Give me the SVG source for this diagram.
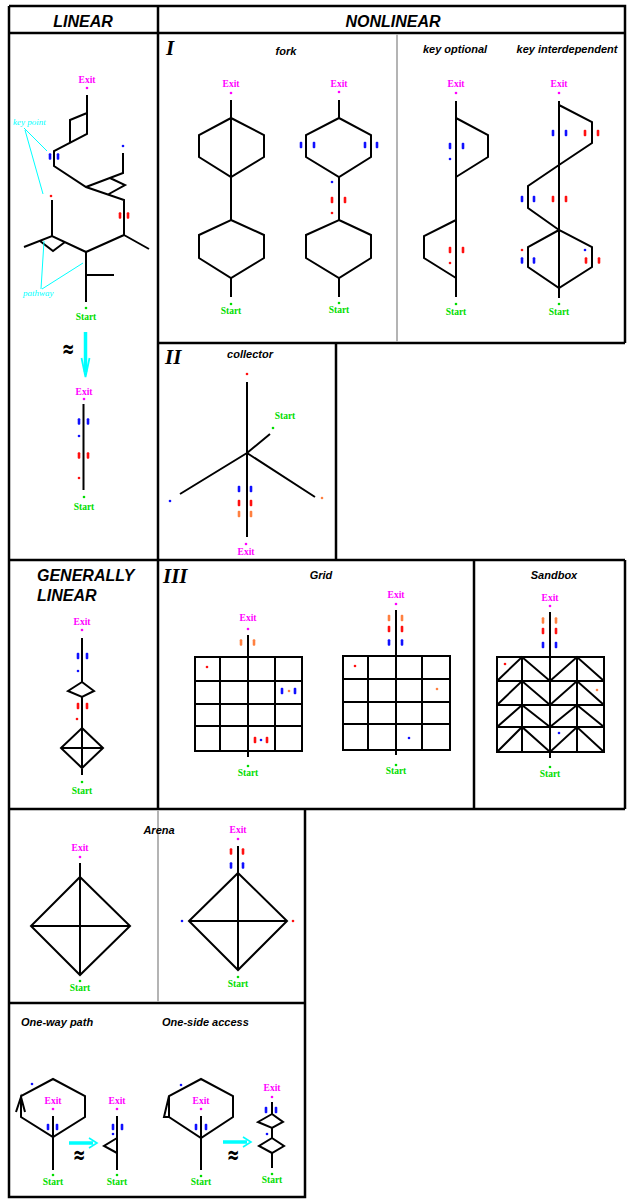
<svg xmlns="http://www.w3.org/2000/svg" xmlns:xlink="http://www.w3.org/1999/xlink" width="633" height="1200" viewBox="0 0 633 1200">
<style>
.fr{stroke:#000;stroke-width:2.5;fill:none}
.gr{stroke:#b4b4b4;stroke-width:2;fill:none}
.ln{stroke:#000;stroke-width:2;fill:none;stroke-linejoin:miter}
.cy{stroke:#00ffff;fill:none}
.hd{font-family:"Liberation Sans",Arial,sans-serif;font-weight:bold;font-style:italic;font-size:16px;fill:#000}
.tt{font-family:"Liberation Sans",Arial,sans-serif;font-weight:bold;font-style:italic;font-size:11px;fill:#000}
.rn{font-family:"Liberation Serif","Times New Roman",serif;font-weight:bold;font-style:italic;font-size:21px;fill:#000}
.ex{font-family:"Liberation Serif","Times New Roman",serif;font-weight:bold;font-size:9.5px;fill:#ff00ff;text-anchor:middle}
.st{font-family:"Liberation Serif","Times New Roman",serif;font-weight:bold;font-size:9.5px;fill:#00dd00;text-anchor:middle}
.an{font-family:"Liberation Serif","Times New Roman",serif;font-style:italic;font-size:9px;fill:#00ffff}
.ap{font-family:"DejaVu Sans",sans-serif;font-weight:bold;font-size:15px;fill:#000;text-anchor:middle}
.b{fill:#1010ff}.r{fill:#ff1010}.o{fill:#ff8040}.m{fill:#ff00ff}.g{fill:#00dd00}
</style>
<defs>
<rect id="k" x="-1.3" y="-3.2" width="2.6" height="6.4" rx="1"/>
<circle id="d" r="1.3"/>
</defs>
<rect x="0" y="0" width="633" height="1200" fill="#fff"/>

<g id="frame">
<path class="fr" d="M9 6H625V343M9 33H625M9 6V1197H305V809M158 6V809M158 343H625M9 560H625M336 343V560M474 560V809M625 560V809M9 809H625M9 1003H305"/>
<path class="gr" d="M397 34V342M158 810V1002"/>
<text class="hd" x="83" y="27" text-anchor="middle">LINEAR</text>
<text class="hd" x="393" y="27" text-anchor="middle">NONLINEAR</text>
</g>

<g id="linear">
<path class="ln" d="M87 95V134L54 151V166L86 187L124 200V235L86 252V302M87 113L70 120V143M86 187L123 173V153M110 178L125 185L108 194.5M124 235L149 249M86 252L52 236L24 247M52 236V200M40 241L53 251L65 242M86 275H114"/>
<text class="ex" x="87" y="83">Exit</text>
<use href="#d" class="m" x="87" y="88"/>
<use href="#k" class="b" x="50" y="156.5"/><use href="#k" class="b" x="58" y="156.5"/>
<use href="#d" class="b" x="123" y="146"/>
<use href="#k" class="r" x="120" y="215.5"/><use href="#k" class="r" x="128" y="215.5"/>
<use href="#d" class="r" x="51" y="196"/>
<use href="#d" class="g" x="86" y="308"/>
<text class="st" x="86" y="320">Start</text>
<text class="an" x="13" y="125">key point</text>
<path class="cy" stroke-width="1" d="M24 128L47 151M25 130L43 194"/>
<text class="an" x="23" y="296">pathway</text>
<path class="cy" stroke-width="1" d="M41 289L44 241M42 289L83 263"/>
<text class="ap" transform="translate(68,357) scale(1,1.6)">≈</text>
<path class="cy" stroke-width="3.5" d="M85.5 332V372"/>
<path class="cy" stroke-width="1.8" d="M81.5 358L85.5 377L89.5 358"/>
<path class="ln" d="M83.5 404V490"/>
<text class="ex" x="84" y="395">Exit</text>
<use href="#d" class="m" x="84" y="399"/>
<use href="#k" class="b" x="79" y="421.5"/><use href="#k" class="b" x="88" y="421.5"/>
<use href="#d" class="b" x="79" y="436"/>
<use href="#k" class="r" x="79" y="455.5"/><use href="#k" class="r" x="88" y="455.5"/>
<use href="#d" class="r" x="79" y="478"/>
<use href="#d" class="g" x="84" y="497"/>
<text class="st" x="84" y="510">Start</text>
</g>

<g id="fork">
<text class="rn" x="166" y="55">I</text>
<text class="tt" x="286" y="55" text-anchor="middle">fork</text>
<path class="ln" d="M231 118L264 135V157L231 177L199 157V135ZM231 220L264 235V258L231 278L199 258V235ZM231 100V220M231 278V297"/>
<text class="ex" x="231" y="87">Exit</text><use href="#d" class="m" x="231" y="93"/>
<use href="#d" class="g" x="231" y="304"/><text class="st" x="231" y="314">Start</text>
<path class="ln" d="M339 118L371 135V157L339 177L306 157V135ZM339 220L371 235V258L339 278L306 258V235ZM339 100V118M339 177V220M339 278V297"/>
<text class="ex" x="339" y="87">Exit</text><use href="#d" class="m" x="339" y="92"/>
<use href="#k" class="b" x="301" y="145"/><use href="#k" class="b" x="314" y="145"/>
<use href="#k" class="b" x="365" y="145"/><use href="#k" class="b" x="377" y="145"/>
<use href="#d" class="b" x="332" y="182"/>
<use href="#k" class="r" x="332" y="200"/><use href="#k" class="r" x="345" y="200"/>
<use href="#d" class="r" x="332" y="213"/>
<use href="#d" class="g" x="339" y="303"/><text class="st" x="339" y="313">Start</text>
</g>

<g id="key-optional">
<text class="tt" x="455" y="53" text-anchor="middle">key optional</text>
<path class="ln" d="M456 101V297M456 118L488 135V157L456 177M456 220L424 236V258L456 278"/>
<text class="ex" x="456" y="87">Exit</text><use href="#d" class="m" x="456" y="93"/>
<use href="#k" class="b" x="450" y="146"/><use href="#k" class="b" x="463" y="146"/>
<use href="#d" class="b" x="450" y="159"/>
<use href="#k" class="r" x="450" y="250"/><use href="#k" class="r" x="463" y="250"/>
<use href="#d" class="r" x="450" y="263"/>
<use href="#d" class="g" x="456" y="304"/><text class="st" x="456" y="315">Start</text>
</g>

<g id="key-interdependent">
<text class="tt" x="567" y="53" text-anchor="middle">key interdependent</text>
<path class="ln" d="M559 101V298M559 105L592 122V143L559 165L528 186V208L559 230L592 247V267L559 288L528 267V247L559 230"/>
<text class="ex" x="559" y="87">Exit</text><use href="#d" class="m" x="559" y="93"/>
<use href="#k" class="b" x="553" y="133"/><use href="#k" class="b" x="566" y="133"/>
<use href="#k" class="r" x="585" y="133"/><use href="#k" class="r" x="598" y="133"/>
<use href="#k" class="b" x="522" y="199"/><use href="#k" class="b" x="534" y="199"/>
<use href="#k" class="r" x="553" y="199"/><use href="#k" class="r" x="566" y="199"/>
<use href="#d" class="r" x="522" y="250"/>
<use href="#k" class="b" x="522" y="260.5"/><use href="#k" class="b" x="534" y="260.5"/>
<use href="#d" class="b" x="585" y="250"/>
<use href="#k" class="r" x="586" y="260.5"/><use href="#k" class="r" x="599" y="260.5"/>
<use href="#d" class="g" x="559" y="304"/><text class="st" x="559" y="315">Start</text>
</g>

<g id="collector">
<text class="rn" x="165" y="364">II</text>
<text class="tt" x="250" y="358" text-anchor="middle">collector</text>
<path class="ln" d="M247 382V537M247 453L270 434M247 453L180 494M247 453L315 497"/>
<use href="#d" class="r" x="247" y="374"/>
<use href="#d" class="g" x="273" y="428"/><text class="st" x="285" y="419">Start</text>
<use href="#d" class="b" x="170" y="501"/>
<use href="#d" class="o" x="322" y="498"/>
<use href="#k" class="b" x="239" y="489"/><use href="#k" class="b" x="251" y="489"/>
<use href="#k" class="r" x="239" y="503"/><use href="#k" class="r" x="251" y="503"/>
<use href="#k" class="o" x="239" y="514"/><use href="#k" class="o" x="251" y="514"/>
<use href="#d" class="m" x="246" y="544"/><text class="ex" x="246" y="555">Exit</text>
</g>

<g id="generally-linear">
<text class="hd" x="37" y="581">GENERALLY</text>
<text class="hd" x="37" y="601">LINEAR</text>
<path class="ln" d="M82 638V682L94 691L82 697L68 691L82 682M82 697V728L103 748L82 768L61 748L82 728V775M61 748H103"/>
<text class="ex" x="82" y="625">Exit</text><use href="#d" class="m" x="82" y="630"/>
<use href="#k" class="b" x="78" y="656"/><use href="#k" class="b" x="87" y="656"/>
<use href="#d" class="b" x="78" y="671"/>
<use href="#k" class="r" x="78" y="706"/><use href="#k" class="r" x="87" y="706"/>
<use href="#d" class="r" x="77" y="719"/>
<use href="#d" class="g" x="82" y="782"/><text class="st" x="82" y="794">Start</text>
</g>

<g id="grid">
<text class="rn" x="163" y="583">III</text>
<text class="tt" x="321" y="579" text-anchor="middle">Grid</text>
<path class="ln" d="M248 635V757M195 657H302V751H195ZM220 657V751M275 657V751M195 681H302M195 704H302M195 726H302"/>
<text class="ex" x="248" y="621">Exit</text><use href="#d" class="m" x="248" y="629"/>
<use href="#k" class="o" x="241" y="642.5"/><use href="#k" class="o" x="254" y="642.5"/>
<use href="#d" class="r" x="207" y="667"/>
<use href="#k" class="b" x="282" y="691"/><use href="#k" class="b" x="295" y="691"/>
<use href="#d" class="o" x="289" y="691"/>
<use href="#k" class="r" x="255" y="740"/><use href="#k" class="r" x="267" y="740"/>
<use href="#d" class="b" x="261" y="740"/>
<use href="#d" class="g" x="248" y="766"/><text class="st" x="248" y="776">Start</text>
<path class="ln" d="M396 610V755M343 656H450V750H343ZM368 656V750M422 656V750M343 679H450M343 702H450M343 724H450"/>
<text class="ex" x="396" y="598">Exit</text><use href="#d" class="m" x="396" y="604"/>
<use href="#k" class="o" x="389" y="618"/><use href="#k" class="o" x="402" y="618"/>
<use href="#k" class="r" x="389" y="629"/><use href="#k" class="r" x="402" y="629"/>
<use href="#k" class="b" x="389" y="642.5"/><use href="#k" class="b" x="402" y="642.5"/>
<use href="#d" class="r" x="355" y="666"/>
<use href="#d" class="o" x="437" y="689"/>
<use href="#d" class="b" x="409" y="738"/>
<use href="#d" class="g" x="396" y="765"/><text class="st" x="396" y="774">Start</text>
</g>

<g id="sandbox">
<text class="tt" x="554" y="579" text-anchor="middle">Sandbox</text>
<path class="ln" d="M550 612V758M497 657H604V752H497ZM522 657V752M577 657V752M497 681H604M497 705H604M497 727H604M497 681L522 657L550 681L577 657L604 681M497 705L522 681L550 705L577 681L604 705M497 727L522 705L550 727L577 705L604 727M497 752L522 727L550 752L577 727L604 752"/>
<text class="ex" x="550" y="601">Exit</text><use href="#d" class="m" x="550" y="606"/>
<use href="#k" class="o" x="543" y="620.5"/><use href="#k" class="o" x="556" y="620.5"/>
<use href="#k" class="r" x="543" y="631"/><use href="#k" class="r" x="556" y="631"/>
<use href="#k" class="b" x="543" y="645"/><use href="#k" class="b" x="556" y="645"/>
<use href="#d" class="r" x="505" y="664"/>
<use href="#d" class="o" x="597" y="690"/>
<use href="#d" class="b" x="559" y="733"/>
<use href="#d" class="g" x="550" y="767"/><text class="st" x="550" y="777">Start</text>
</g>

<g id="arena">
<text class="tt" x="159" y="834" text-anchor="middle">Arena</text>
<path class="ln" d="M80 863V975M80 877L130 926L80 975L31 926ZM31 926H130"/>
<text class="ex" x="80" y="851">Exit</text><use href="#d" class="m" x="80" y="857"/>
<use href="#d" class="g" x="80" y="981"/><text class="st" x="80" y="991">Start</text>
<path class="ln" d="M238 846V970M238 873L287 921L238 970L189 921ZM189 921H287"/>
<text class="ex" x="238" y="833">Exit</text><use href="#d" class="m" x="238" y="839"/>
<use href="#k" class="r" x="231" y="851.5"/><use href="#k" class="r" x="243" y="851.5"/>
<use href="#k" class="b" x="231" y="865.5"/><use href="#k" class="b" x="243" y="865.5"/>
<use href="#d" class="b" x="182" y="921"/>
<use href="#d" class="r" x="293" y="921"/>
<use href="#d" class="g" x="238" y="977"/><text class="st" x="238" y="987">Start</text>
</g>

<g id="one-way-path">
<text class="tt" x="21" y="1026">One-way path</text>
<path class="ln" d="M53 1079L85 1096V1117L53 1137L21 1117V1096ZM16 1112L21 1097L25 1112M53 1116V1170"/>
<use href="#d" class="b" x="32" y="1084"/>
<text class="ex" x="53" y="1104">Exit</text><use href="#d" class="m" x="53" y="1109"/>
<use href="#k" class="b" x="48" y="1127"/><use href="#k" class="b" x="57" y="1127"/>
<use href="#d" class="g" x="53" y="1175"/><text class="st" x="53" y="1185">Start</text>
<path class="cy" stroke-width="3.5" d="M69 1143H93"/>
<path class="cy" stroke-width="1.6" d="M89 1138L97 1143L89 1148"/>
<text class="ap" transform="translate(79,1163) scale(1,1.6)">≈</text>
<path class="ln" d="M117 1116V1170M117 1138L104 1146L117 1153"/>
<text class="ex" x="117" y="1104">Exit</text><use href="#d" class="m" x="117" y="1109"/>
<use href="#k" class="b" x="113" y="1127"/><use href="#k" class="b" x="122" y="1127"/>
<use href="#d" class="b" x="113" y="1134"/>
<use href="#d" class="g" x="117" y="1175"/><text class="st" x="117" y="1185">Start</text>
</g>

<g id="one-side-access">
<text class="tt" x="162" y="1026">One-side access</text>
<path class="ln" d="M201 1079L233 1096V1117L201 1138L169 1117V1096ZM169 1096L164 1117H169M201 1116V1170"/>
<use href="#d" class="b" x="181" y="1085"/>
<text class="ex" x="201" y="1104">Exit</text><use href="#d" class="m" x="201" y="1109"/>
<use href="#k" class="b" x="196" y="1127"/><use href="#k" class="b" x="206" y="1127"/>
<use href="#d" class="g" x="201" y="1176"/><text class="st" x="201" y="1185">Start</text>
<path class="cy" stroke-width="3.5" d="M223 1142H247"/>
<path class="cy" stroke-width="1.6" d="M243 1137L251 1142L243 1147"/>
<text class="ap" transform="translate(233,1163) scale(1,1.6)">≈</text>
<path class="ln" d="M272 1102V1114L283 1122L272 1128L258 1122L272 1114M272 1128V1138L284 1146L272 1153L259 1146L272 1138M272 1153V1168"/>
<text class="ex" x="272" y="1091">Exit</text><use href="#d" class="m" x="272" y="1097"/>
<use href="#k" class="b" x="266" y="1110"/><use href="#k" class="b" x="276" y="1110"/>
<use href="#d" class="b" x="267" y="1134"/>
<use href="#d" class="g" x="272" y="1174"/><text class="st" x="272" y="1183">Start</text>
</g>
</svg>
